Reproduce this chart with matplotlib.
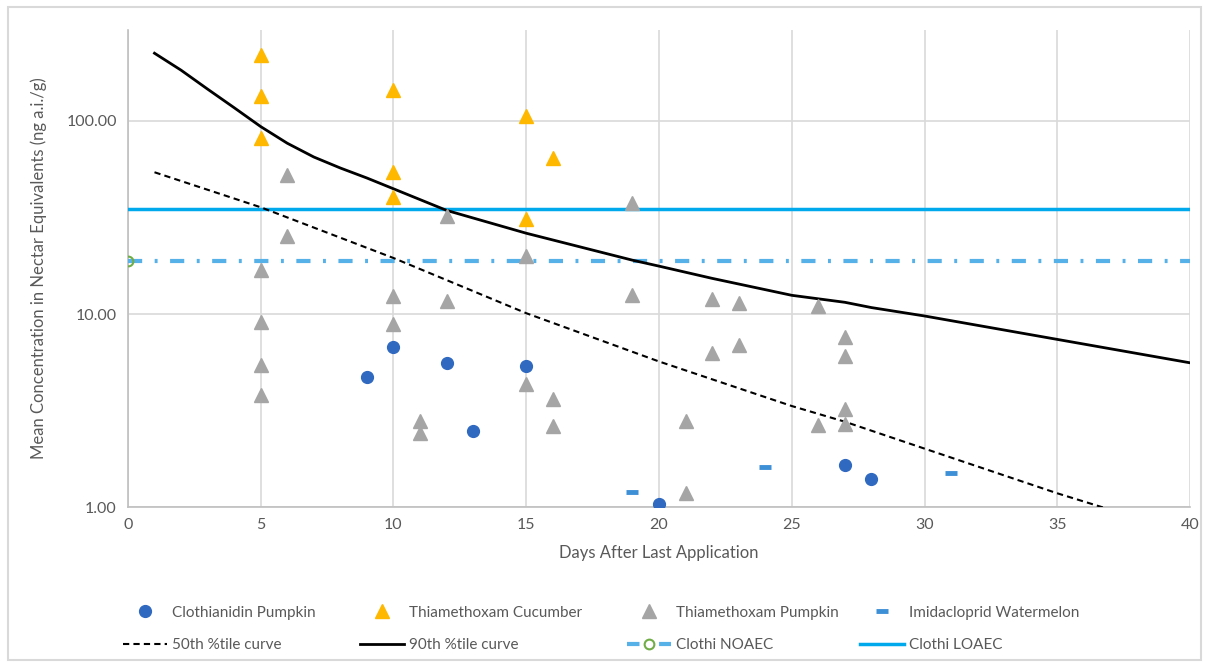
"""
Residue decline in nectar: measured means per crop against
50th/90th percentile decline curves and clothianidin NOAEC/LOAEC levels.
"""
import matplotlib.pyplot as plt
from matplotlib.lines import Line2D
from matplotlib.patches import Rectangle

plt.rcParams['font.family'] = ['Lato', 'DejaVu Sans']

# measured means (day, ng a.i./g)
clothi_pumpkin_days = [9, 10, 12, 13, 15, 20, 27, 28]
clothi_pumpkin_conc = [4.73, 6.77, 5.58, 2.48, 5.39, 1.04, 1.66, 1.40]

thiam_cucumber_days = [5, 5, 5, 10, 10, 10, 15, 15, 16]
thiam_cucumber_conc = [220, 134, 81.5, 144, 54.5, 40.4, 106.5, 31.0, 64.2]

thiam_pumpkin_days = [5, 5, 5, 5, 6, 6, 10, 10, 11, 11, 12, 12, 15, 15,
                      16, 16, 19, 19, 21, 21, 22, 22, 23, 23, 26, 26,
                      27, 27, 27, 27]
thiam_pumpkin_conc = [17.0, 9.1, 5.42, 3.82, 52.3, 25.3, 12.4, 8.9, 2.79, 2.42,
                      32.2, 11.7, 20.0, 4.34, 3.63, 2.63, 37.7, 12.5, 2.81, 1.18,
                      11.9, 6.28, 11.4, 6.9, 11.0, 2.66, 7.6, 6.06, 3.22, 2.69]

imida_watermelon_days = [19, 24, 31]
imida_watermelon_conc = [1.20, 1.62, 1.51]

# percentile decline curves
p50_days = [1, 5, 10, 15, 20, 25, 27, 30, 35, 37]
p50_conc = [54.2, 35.7, 19.5, 10.1, 5.68, 3.34, 2.77, 2.01, 1.18, 0.97]

p90_days = [1, 2, 3, 4, 5, 6, 7, 8, 9, 10, 12, 15, 19, 20, 22, 25, 27, 28, 30, 35, 40]
p90_conc = [224, 183, 146, 117, 93.4, 76.6, 65.0, 57.0, 50.6, 44.5, 34.4, 26.2,
            19.0, 17.7, 15.3, 12.5, 11.5, 10.8, 9.77, 7.39, 5.59]

# effect levels
noaec_days = [0, 40]
noaec_conc = [18.8, 18.8]
loaec_days = [0, 40]
loaec_conc = [35.0, 35.0]

x_ticks = [0, 5, 10, 15, 20, 25, 30, 35, 40]
y_ticks = [1, 10, 100]
y_tick_labels = ['1.00', '10.00', '100.00']

W, H = 1207, 663
fig = plt.figure(figsize=(W / 100, H / 100), dpi=100)
ax = fig.add_axes([0.106, 0.235, 0.880, 0.720])

# outer frame of the chart area
fig.patches.append(Rectangle((0.007, 0.004), 0.988, 0.985, transform=fig.transFigure,
                             fill=False, edgecolor='#D9D9D9', linewidth=1.5))

h_cp, = ax.plot(clothi_pumpkin_days, clothi_pumpkin_conc, 'o', color='#3069C0',
                markersize=8.5, linestyle='none', zorder=5, label='Clothianidin Pumpkin')
h_tc, = ax.plot(thiam_cucumber_days, thiam_cucumber_conc, '^', color='#FFB800',
                markersize=9.5, linestyle='none', zorder=5, label='Thiamethoxam Cucumber')
h_tp, = ax.plot(thiam_pumpkin_days, thiam_pumpkin_conc, '^', color='#A5A5A5',
                markersize=9.5, linestyle='none', zorder=5, label='Thiamethoxam Pumpkin')
h_iw, = ax.plot(imida_watermelon_days, imida_watermelon_conc, '_', color='#3D8FD6',
                markersize=9, markeredgewidth=3.5, linestyle='none', zorder=5,
                label='Imidacloprid Watermelon')

h_50, = ax.plot(p50_days, p50_conc, color='black', linewidth=1.5,
                dashes=(3, 2), zorder=4, label='50th %tile curve')
h_90, = ax.plot(p90_days, p90_conc, color='black', linewidth=2,
                zorder=4, label='90th %tile curve')
ax.plot(noaec_days, noaec_conc, color='#56B1E8', linewidth=3,
        dashes=(3.4, 3, 0.7, 3), marker='o', markevery=[0], markersize=7,
        markerfacecolor='none', markeredgecolor='#70AD47', markeredgewidth=1.5,
        zorder=3)
h_lo, = ax.plot(loaec_days, loaec_conc, color='#00A8EC', linewidth=2.5,
                zorder=3, label='Clothi LOAEC')

# legend key for NOAEC: circle sitting in the middle of a short blue line
h_no = Line2D([], [], color='#56B1E8', linewidth=3, dashes=(3, 4.7),
              marker='o', markersize=7, markerfacecolor='none',
              markeredgecolor='#70AD47', markeredgewidth=1.5, label='Clothi NOAEC')

ax.set_yscale('log')
ax.set_ylim(1, 296)
ax.set_xlim(0, 40)
ax.set_xticks(x_ticks)
ax.set_yticks(y_ticks)
ax.set_yticklabels(y_tick_labels)
ax.minorticks_off()
ax.tick_params(length=0, labelsize=11.5, labelcolor='#595959', pad=8)
ax.grid(True, color='#D9D9D9', linewidth=1.2)
ax.set_axisbelow(True)
for side in ['top', 'right']:
    ax.spines[side].set_visible(False)
for side in ['left', 'bottom']:
    ax.spines[side].set_color('#BFBFBF')
    ax.spines[side].set_linewidth(1.2)

ax.set_xlabel('Days After Last Application', fontsize=12, color='#595959', labelpad=9)
ax.set_ylabel('Mean Concentration in Nectar Equivalents (ng a.i./g)', fontsize=12,
              color='#595959', labelpad=14)

# legend: four columns placed by hand, marker series on top, lines below
columns = [(h_cp, h_50), (h_tc, h_90), (h_tp, h_no), (h_iw, h_lo)]
col_left_px = [123, 360, 627, 860]
for (top, bottom), xpx in zip(columns, col_left_px):
    leg = fig.legend(handles=[top, bottom], labels=[top.get_label(), bottom.get_label()],
                     loc='center left', bbox_to_anchor=(xpx / W, 1 - 629 / H),
                     frameon=False, fontsize=11, handlelength=2.9, handletextpad=0.3,
                     labelspacing=1.2, borderpad=0, borderaxespad=0)
    for t in leg.get_texts():
        t.set_color('#595959')

fig.savefig('out.png', dpi=100)
